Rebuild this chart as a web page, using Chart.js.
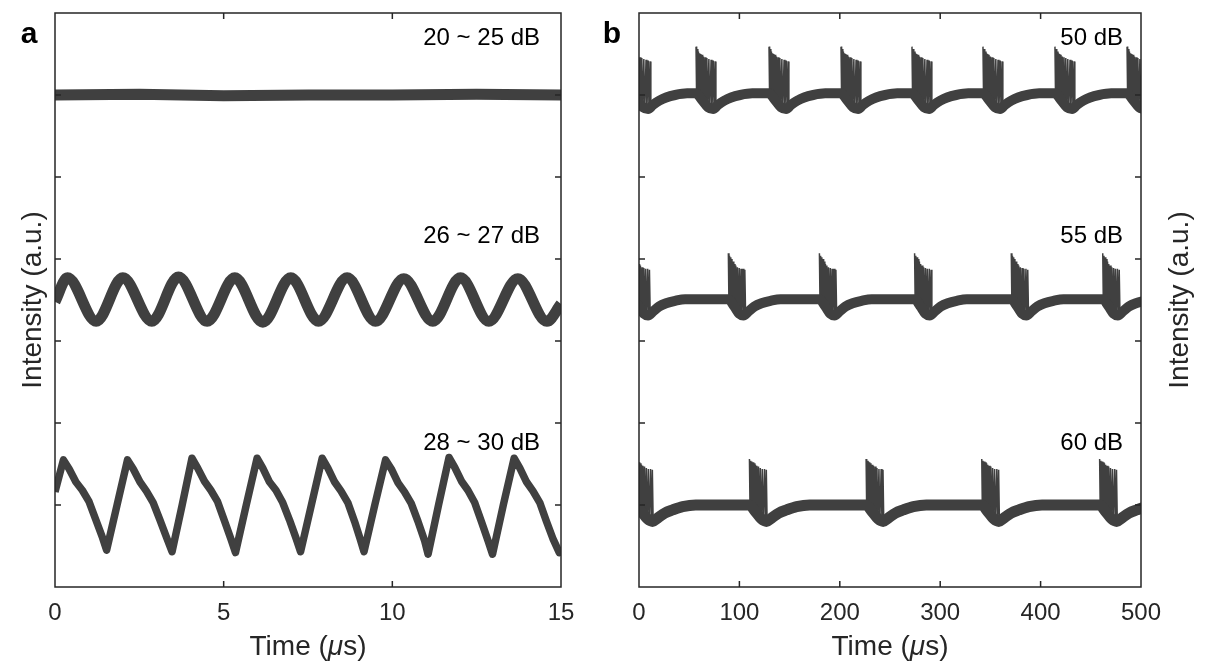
<!DOCTYPE html>
<html><head><meta charset="utf-8">
<script src="https://cdn.jsdelivr.net/npm/chart.js@4.4.1/dist/chart.umd.min.js"></script>
<style>
html,body{margin:0;padding:0;background:#fff;}
#wrap{position:relative;width:1205px;height:665px;overflow:hidden;}
canvas{position:absolute;top:0;}
#ca{left:0;} #cb{left:600px;}
</style></head><body>
<div id="wrap"><canvas id="ca" width="600" height="665"></canvas><canvas id="cb" width="605" height="665"></canvas></div>
<script>
const TRACE = '#404040';
const AXIS = '#262626';
const FONT = '"Liberation Sans", Arial, Helvetica, sans-serif';

// ---- tick values / labels ----
const xTicksA = [0, 5, 10, 15];
const xTicksB = [0, 100, 200, 300, 400, 500];
const yTicks = [0, 1, 2, 3, 4, 5, 6, 7];
const labelsA = ['20 ~ 25 dB', '26 ~ 27 dB', '28 ~ 30 dB'];
const labelsB = ['50 dB', '55 dB', '60 dB'];
const xTitleParts = ['Time (', 'μ', 's)'];
const yTitle = 'Intensity (a.u.)';

// ---- panel a: 20~25 dB (flat) ----
const flatT = [0, 2.5, 5, 7.5, 10, 12.5, 15];
const flatV = [6.0, 6.01, 5.99, 6.0, 6.0, 6.01, 6.0];

// ---- panel a: 26~27 dB (sinusoid) ----
const sinT = [0, 0.37, 1.22, 2.01, 2.87, 3.66, 4.51, 5.33, 6.16, 6.99, 7.81, 8.66, 9.50, 10.34, 11.20, 12.02, 12.86, 13.72, 14.58, 15];
const sinV = [3.48, 3.77, 3.24, 3.77, 3.24, 3.78, 3.24, 3.77, 3.23, 3.77, 3.24, 3.77, 3.24, 3.76, 3.24, 3.77, 3.24, 3.76, 3.24, 3.45];

// ---- panel a: 28~30 dB (sawtooth) ----
const sawT = [0, 0.25, 0.42, 0.62, 0.81, 1.01, 1.21, 1.41, 1.53, 1.84,
  2.15, 2.32, 2.52, 2.71, 2.91, 3.11, 3.31, 3.47, 3.77,
  4.06, 4.23, 4.43, 4.62, 4.82, 5.02, 5.22, 5.35, 5.67,
  5.99, 6.16, 6.36, 6.55, 6.75, 6.95, 7.15, 7.28, 7.60,
  7.92, 8.09, 8.29, 8.48, 8.68, 8.88, 9.05, 9.16, 9.48,
  9.80, 9.97, 10.17, 10.36, 10.56, 10.76, 10.96, 11.06, 11.37,
  11.68, 11.85, 12.05, 12.24, 12.44, 12.64, 12.84, 12.97, 13.29,
  13.61, 13.78, 13.98, 14.17, 14.37, 14.57, 14.77, 14.95, 15.0];
const sawV = [1.16, 1.55, 1.44, 1.28, 1.18, 1.04, 0.82, 0.60, 0.45, 1.00,
  1.55, 1.44, 1.28, 1.17, 1.03, 0.82, 0.60, 0.43, 1.00,
  1.57, 1.45, 1.29, 1.18, 1.04, 0.81, 0.58, 0.42, 1.00,
  1.57, 1.45, 1.28, 1.18, 1.03, 0.82, 0.59, 0.43, 1.00,
  1.57, 1.45, 1.28, 1.17, 1.03, 0.80, 0.58, 0.43, 1.00,
  1.55, 1.44, 1.27, 1.16, 1.02, 0.80, 0.56, 0.40, 1.00,
  1.58, 1.46, 1.29, 1.18, 1.03, 0.80, 0.56, 0.40, 1.00,
  1.57, 1.45, 1.28, 1.17, 1.03, 0.80, 0.58, 0.42, 0.45];

// ---- panel b: 50 dB ----
const b50Starts = [-8, 56.8, 129.5, 201.2, 271.9, 342.6, 414.3, 486.1];
const b50SpikeT = [0, 0.6, 1.2, 1.8, 2.4, 3.0, 3.6, 4.2, 4.8, 5.4, 6.0, 6.6, 7.4, 8.2, 9.0, 9.8, 10.8, 11.6, 12.8, 13.6, 15.0, 15.8, 17.2, 18.0, 19.0, 19.8];
const b50SpikeV = [6.59, 5.96, 6.56, 5.94, 6.53, 5.92, 6.51, 5.90, 6.50, 5.88, 6.49, 5.86, 6.47, 5.84, 6.46, 5.82, 6.45, 5.80, 6.44, 5.79, 6.43, 5.78, 6.42, 5.79, 6.41, 5.82];
const b50RecT = [0, 6, 12, 17, 22, 28, 35, 44, 56];
const b50RecV = [6.02, 5.94, 5.85, 5.83, 5.88, 5.93, 5.97, 6.00, 6.02];

// ---- panel b: 55 dB ----
const b55Starts = [-6, 89.0, 179.7, 274.5, 370.8, 461.9];
const b55SpikeT = [0, 0.6, 1.2, 1.8, 2.4, 3.0, 3.6, 4.2, 4.8, 5.4, 6.0, 6.6, 7.4, 8.2, 9.0, 9.8, 10.8, 11.6, 12.6, 13.4, 14.6, 15.4, 16.4, 17.2];
const b55SpikeV = [4.07, 3.44, 4.04, 3.42, 4.02, 3.40, 4.00, 3.38, 3.97, 3.36, 3.94, 3.34, 3.92, 3.31, 3.90, 3.29, 3.89, 3.27, 3.88, 3.26, 3.88, 3.27, 3.87, 3.30];
const b55RecT = [0, 6, 11, 15, 20, 26, 33, 42, 52];
const b55RecV = [3.51, 3.42, 3.33, 3.31, 3.36, 3.42, 3.46, 3.49, 3.51];

// ---- panel b: 60 dB ----
const b60Starts = [-3.5, 110.0, 226.2, 341.4, 458.8];
const b60SpikeT = [0, 0.6, 1.2, 1.8, 2.4, 3.0, 3.6, 4.2, 4.8, 5.4, 6.0, 6.6, 7.4, 8.2, 9.0, 9.8, 10.8, 11.6, 12.8, 13.6, 15.0, 15.8, 16.8, 17.6];
const b60SpikeV = [1.56, 0.94, 1.54, 0.92, 1.53, 0.90, 1.52, 0.88, 1.51, 0.86, 1.49, 0.84, 1.48, 0.82, 1.47, 0.80, 1.45, 0.78, 1.44, 0.77, 1.44, 0.77, 1.43, 0.79];
const b60RecT = [0, 6, 12, 17, 22, 29, 37, 47, 60];
const b60RecV = [1.00, 0.92, 0.83, 0.80, 0.84, 0.90, 0.94, 0.98, 1.00];

// ---- helpers ----
const pts = (xs, ys) => xs.map((x, i) => ({x, y: ys[i]}));
function band(starts, offs, vals) {
  const out = [];
  starts.forEach(s => offs.forEach((o, i) => out.push({x: s + o, y: vals[i]})));
  return out;
}
function spikes(starts, offs, vals) {
  const out = [];
  starts.forEach(s => {
    offs.forEach((o, i) => out.push({x: s + o, y: vals[i]}));
    out.push({x: s + offs[offs.length - 1] + 0.5, y: null});
  });
  return out;
}

Chart.defaults.font.family = FONT;

const frame = {
  id: 'frame',
  afterDatasetsDraw(chart, args, o) {
    const {ctx, chartArea: a} = chart;
    const xs = chart.scales.x, ys = chart.scales.y;
    ctx.save();
    ctx.lineWidth = 1.5;
    ctx.strokeStyle = AXIS;
    const L = 6;
    ctx.beginPath();
    xs.ticks.forEach(t => {
      const p = xs.getPixelForValue(t.value);
      if (p > a.left + 2 && p < a.right - 2) {
        ctx.moveTo(p, a.bottom); ctx.lineTo(p, a.bottom - L);
        ctx.moveTo(p, a.top); ctx.lineTo(p, a.top + L);
      }
    });
    ys.ticks.forEach(t => {
      const p = ys.getPixelForValue(t.value);
      if (p > a.top + 2 && p < a.bottom - 2) {
        ctx.moveTo(a.left, p); ctx.lineTo(a.left + L, p);
        ctx.moveTo(a.right, p); ctx.lineTo(a.right - L, p);
      }
    });
    ctx.stroke();
    ctx.strokeRect(a.left, a.top, a.right - a.left, a.bottom - a.top);

    ctx.fillStyle = '#000';
    ctx.font = 'bold 30px ' + FONT;
    ctx.textAlign = 'center';
    ctx.textBaseline = 'alphabetic';
    ctx.fillText(o.letter, o.letterX, o.letterY);

    ctx.font = '24px ' + FONT;
    ctx.textAlign = 'right';
    o.labels.forEach((s, i) => ctx.fillText(s, o.labelX, o.labelY[i]));

    // x-axis title with italic mu
    ctx.fillStyle = AXIS;
    ctx.textBaseline = 'middle';
    ctx.textAlign = 'left';
    const fN = '28px ' + FONT, fI = 'italic 28px ' + FONT;
    const fonts = [fN, fI, fN];
    let w = 0;
    const widths = xTitleParts.map((s, i) => { ctx.font = fonts[i]; const m = ctx.measureText(s).width; w += m; return m; });
    let cx = (a.left + a.right) / 2 - w / 2;
    xTitleParts.forEach((s, i) => { ctx.font = fonts[i]; ctx.fillText(s, cx, o.xTitleY); cx += widths[i]; });

    if (o.sideTitle) {
      ctx.font = '28px ' + FONT;
      ctx.translate(o.sideTitleX, (a.top + a.bottom) / 2);
      ctx.rotate(-Math.PI / 2);
      ctx.textAlign = 'center';
      ctx.textBaseline = 'middle';
      ctx.fillText(o.sideTitle, 0, 0);
    }
    ctx.restore();
  }
};

function lineDs(data, w, extra) {
  return Object.assign({data, borderColor: TRACE, backgroundColor: TRACE, borderWidth: w,
    pointRadius: 0, tension: 0, clip: 0, fill: false, borderJoinStyle: 'round', borderCapStyle: 'butt', spanGaps: false}, extra || {});
}

function makeOptions(xMax, xTickVals, yWidth, rightPad, leftTitle, frameOpts) {
  return {
    responsive: false,
    animation: false,
    events: [],
    layout: {padding: {top: 13, right: rightPad, left: 0, bottom: 0}},
    plugins: {legend: {display: false}, tooltip: {enabled: false}, frame: frameOpts},
    scales: {
      x: {
        type: 'linear', min: 0, max: xMax,
        afterBuildTicks: s => { s.ticks = xTickVals.map(v => ({value: v})); },
        ticks: {color: AXIS, font: {size: 24}, padding: 12, maxRotation: 0, autoSkip: false},
        grid: {display: false, drawTicks: false},
        border: {display: false},
        title: {display: false},
        afterFit: s => { s.height = 78; }
      },
      y: {
        type: 'linear', min: 0, max: 7,
        afterBuildTicks: s => { s.ticks = yTicks.map(v => ({value: v})); },
        ticks: {display: false},
        grid: {display: false, drawTicks: false},
        border: {display: false},
        title: {display: !!leftTitle, text: leftTitle || '', color: AXIS, font: {size: 28}, padding: {top: 16, bottom: 0}},
        afterFit: s => { s.width = yWidth; }
      }
    }
  };
}

new Chart(document.getElementById('ca'), {
  type: 'line',
  data: {datasets: [
    lineDs(pts(flatT, flatV), 11),
    lineDs(pts(sinT, sinV), 11, {cubicInterpolationMode: 'monotone'}),
    lineDs(pts(sawT, sawV), 7.5)
  ]},
  options: makeOptions(15, xTicksA, 55, 39, yTitle,
    {letter: 'a', letterX: 29, letterY: 43, labels: labelsA, labelX: 540, labelY: [45, 243, 450], xTitleY: 647}),
  plugins: [frame]
});

new Chart(document.getElementById('cb'), {
  type: 'line',
  data: {datasets: [
    lineDs(band(b50Starts, b50RecT, b50RecV), 10, {cubicInterpolationMode: 'monotone'}),
    lineDs(spikes(b50Starts, b50SpikeT, b50SpikeV), 1.5, {borderJoinStyle: 'miter'}),
    lineDs(band(b55Starts, b55RecT, b55RecV), 10, {cubicInterpolationMode: 'monotone'}),
    lineDs(spikes(b55Starts, b55SpikeT, b55SpikeV), 1.5, {borderJoinStyle: 'miter'}),
    lineDs(band(b60Starts, b60RecT, b60RecV), 11, {cubicInterpolationMode: 'monotone'}),
    lineDs(spikes(b60Starts, b60SpikeT, b60SpikeV), 1.5, {borderJoinStyle: 'miter'})
  ]},
  options: makeOptions(500, xTicksB, 39, 64, null,
    {letter: 'b', letterX: 12, letterY: 43, labels: labelsB, labelX: 523, labelY: [45, 243, 450], xTitleY: 647,
     sideTitle: yTitle, sideTitleX: 580}),
  plugins: [frame]
});
</script></body></html>
